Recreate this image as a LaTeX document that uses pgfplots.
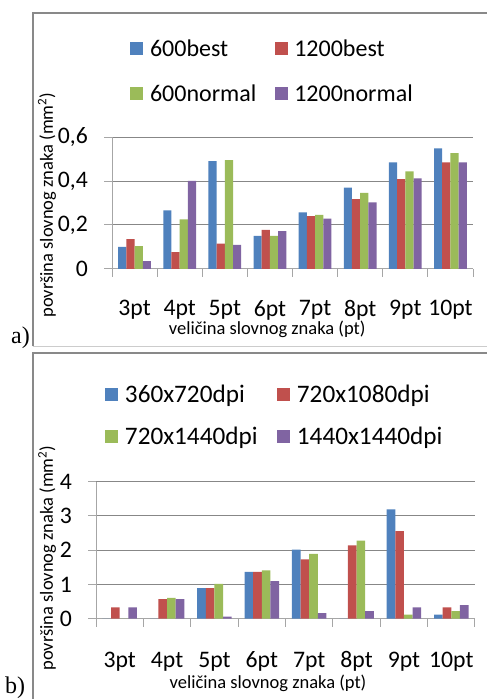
\documentclass[border=0pt]{standalone}
\usepackage{pgfplots}
\pgfplotsset{compat=1.18}
\usepackage{fontspec}
\setmainfont{Carlito}
\newfontfamily\timesfont{Liberation Serif}
\definecolor{cBlue}{HTML}{4F81BD}
\definecolor{cRed}{HTML}{C0504D}
\definecolor{cGreen}{HTML}{9BBB59}
\definecolor{cPurple}{HTML}{8064A2}
\definecolor{axgray}{HTML}{A6A6A6}
\definecolor{gridgray}{HTML}{878787}
\definecolor{framegray}{HTML}{898989}

\pgfplotsset{
  common/.style={
    scale only axis,
    ybar=0pt, bar width=0.182,
    xmin=-0.5, xmax=7.5,
    xtick={-0.5,0.5,...,7.5},
    xticklabels={3pt,4pt,5pt,6pt,7pt,8pt,9pt,10pt,{}},
    tick align=outside,
    major tick length=8pt,
    axis x line*=bottom, axis y line*=left,
    axis line style={draw=axgray, line width=1pt, -},
    tick style={draw=axgray, line width=1pt},
    ymajorgrids, grid style={draw=gridgray, line width=1pt},
    ymin=0,
    /pgf/number format/assume math mode=true,
    tick label style={font=\fontsize{23.7}{28}\selectfont, inner sep=0pt},
    yticklabel style={anchor=east, xshift=-16pt},
    label style={font=\fontsize{18.5}{22}\selectfont},
    legend columns=2,
    legend cell align=left,
    legend image code/.code={\fill[##1] (0pt,-6.5pt) rectangle (13pt,6.5pt);},
    clip=false,
  }
}

\begin{document}
\begin{tikzpicture}
\path[use as bounding box] (0,0) rectangle (487pt,699pt);
% frames
\draw[framegray, line width=2pt] (33pt,0pt) -- (33pt,346pt) -- (487pt,346pt);
\draw[black!20, line width=1pt] (33pt,352.5pt) -- (487pt,352.5pt);
\draw[framegray, line width=2pt] (33pt,352.5pt) -- (33pt,686pt) -- (487pt,686pt);
\node[anchor=base west, inner sep=0pt, font=\timesfont\fontsize{24}{28}\selectfont] at (11pt,355pt) {a)};
\node[anchor=base west, inner sep=0pt, font=\timesfont\fontsize{24}{28}\selectfont] at (5pt,5.5pt) {b)};

% panel a
\begin{axis}[common,
  at={(112pt,430pt)}, anchor=south west,
  width=361pt, height=132pt,
  ymax=0.6,
  ytick={0,0.2,0.4,0.6},
  yticklabels={0,{0,2},{0,4},{0,6}},
  xticklabel style={anchor=center, xshift=22.56pt, yshift=-33pt},
  xlabel={veličina slovnog znaka (pt)},
  ylabel={površina slovnog znaka (mm\textsuperscript{2})},
  xlabel style={at={(axis description cs:0.43,-0.455)}, anchor=center},
  ylabel style={at={(axis description cs:-0.18,0.485)}, anchor=center},
  legend style={at={(axis description cs:0.0499,1.738)}, anchor=north west,
    draw=none, fill=none, inner sep=0pt, outer sep=0pt,
    font=\fontsize{24}{28}\selectfont,
    nodes={inner sep=0pt, outer sep=0pt},
    column sep=0pt, row sep=27pt,
    /tikz/column 1/.style={column sep=7pt},
    /tikz/column 2/.style={column sep=19pt},
    /tikz/column 3/.style={column sep=6pt}},
]
\addplot[fill=cBlue, draw=none] coordinates {(0,0.100) (1,0.266) (2,0.490) (3,0.151) (4,0.257) (5,0.370) (6,0.485) (7,0.548)};
\addplot[fill=cRed, draw=none] coordinates {(0,0.136) (1,0.077) (2,0.115) (3,0.178) (4,0.240) (5,0.318) (6,0.408) (7,0.485)};
\addplot[fill=cGreen, draw=none] coordinates {(0,0.104) (1,0.225) (2,0.495) (3,0.151) (4,0.246) (5,0.346) (6,0.444) (7,0.527)};
\addplot[fill=cPurple, draw=none] coordinates {(0,0.036) (1,0.401) (2,0.110) (3,0.172) (4,0.229) (5,0.303) (6,0.412) (7,0.485)};
\legend{600best,1200best,600normal,1200normal}
\end{axis}

% panel b
\begin{axis}[common,
  at={(96pt,80.3pt)}, anchor=south west,
  width=379pt, height=137pt,
  ymax=4,
  ytick={0,1,2,3,4},
  yticklabels={0,1,2,3,4},
  xticklabel style={anchor=center, xshift=23.69pt, yshift=-35pt},
  xlabel={veličina slovnog znaka (pt)},
  ylabel={površina slovnog znaka (mm\textsuperscript{2})},
  xlabel style={at={(axis description cs:0.454,-0.469)}, anchor=center},
  ylabel style={at={(axis description cs:-0.129,0.443)}, anchor=center},
  legend style={at={(axis description cs:0.0237,1.706)}, anchor=north west,
    draw=none, fill=none, inner sep=0pt, outer sep=0pt,
    font=\fontsize{25.2}{30}\selectfont,
    nodes={inner sep=0pt, outer sep=0pt},
    column sep=0pt, row sep=23pt,
    /tikz/column 1/.style={column sep=7pt},
    /tikz/column 2/.style={column sep=19.4pt},
    /tikz/column 3/.style={column sep=7pt}},
]
\addplot[fill=cBlue, draw=none] coordinates {(0,0) (1,0) (2,0.89) (3,1.37) (4,2.02) (5,0) (6,3.19) (7,0.12)};
\addplot[fill=cRed, draw=none] coordinates {(0,0.33) (1,0.57) (2,0.89) (3,1.37) (4,1.73) (5,2.14) (6,2.56) (7,0.33)};
\addplot[fill=cGreen, draw=none] coordinates {(0,0) (1,0.61) (2,1.02) (3,1.41) (4,1.89) (5,2.28) (6,0.12) (7,0.22)};
\addplot[fill=cPurple, draw=none] coordinates {(0,0.33) (1,0.57) (2,0.06) (3,1.10) (4,0.16) (5,0.22) (6,0.33) (7,0.40)};
\legend{360x720dpi,720x1080dpi,720x1440dpi,1440x1440dpi}
\end{axis}
\end{tikzpicture}
\end{document}
